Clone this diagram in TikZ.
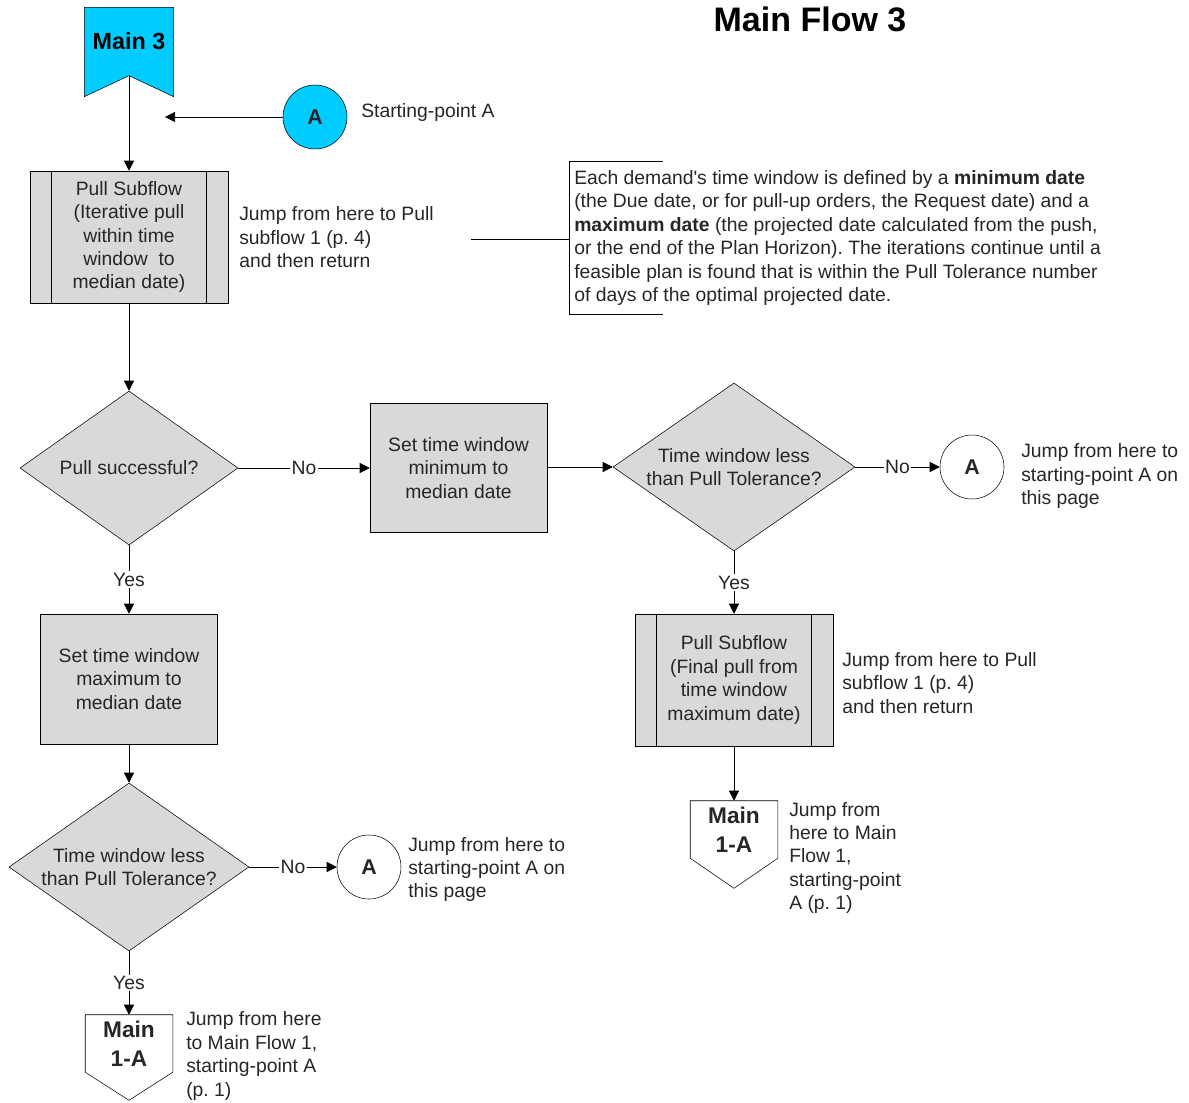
\documentclass[tikz,border=0pt]{standalone}
\usepackage{fontspec}
\setmainfont{Liberation Sans}
\usetikzlibrary{shapes.geometric,arrows.meta,calc,backgrounds}
\newlength\pu \setlength\pu{0.75pt}
\definecolor{cyanfill}{RGB}{0,204,255}
\definecolor{boxfill}{RGB}{217,217,217}
\definecolor{txt}{RGB}{38,38,38}
\frenchspacing
\begin{document}
\begin{tikzpicture}[x=0.75pt,y=-0.75pt, line width=1pt,
  >={Triangle[length=7.5pt,width=7.5pt]},
  every node/.style={font=\fontsize{14.5}{17.6}\selectfont, text=txt},
  proc/.style={draw, fill=boxfill, align=center, inner sep=0pt},
  dec/.style={shape=diamond, draw, fill=boxfill, align=center, inner sep=0pt},
  circ/.style={shape=circle, draw, fill=white, minimum size=64\pu, inner sep=0pt,
    font=\fontsize{16}{19}\selectfont\bfseries},
  offp/.style={align=center, inner sep=0pt, minimum width=87\pu, minimum height=57\pu,
    font=\fontsize{17}{21.8}\selectfont\bfseries},
  note/.style={anchor=west, align=left, inner sep=0pt},
  lbl/.style={fill=white, inner sep=1pt, midway}
]
\useasboundingbox (0,0) rectangle (1189,1103);

% title
\node[font=\fontsize{25.5}{30}\selectfont\bfseries, text=black] (title) at (810,19) {Main Flow 3};

% start banner
\node[inner sep=0pt, minimum width=88\pu, minimum height=67\pu,
      font=\fontsize{17.5}{21}\selectfont\bfseries, text=black] (m3) at (129,41.5) {Main 3};
\begin{pgfonlayer}{background}
\filldraw[fill=cyanfill] (m3.north west) -- (m3.north east) -- ($(m3.south east)+(0,21)$)
  -- (m3.south) -- ($(m3.south west)+(0,21)$) -- cycle;
\end{pgfonlayer}

% starting point A
\node[circ, fill=cyanfill] (A1) at (315,117) {A};
\coordinate (Aend) at (165,117);
\draw[->] (A1) -- (Aend);
\node[note] (nA) at (361,112) {Starting-point A};

% pull subflow 1
\node[proc, minimum width=198\pu, minimum height=132\pu] (b1) at (129,237)
  {Pull Subflow\\(Iterative pull\\within time\\window\ \ to\\median date)};
\draw ($(b1.north west)+(22,0)$) -- ($(b1.south west)+(22,0)$);
\draw ($(b1.north east)+(-22,0)$) -- ($(b1.south east)+(-22,0)$);
\draw[->] (m3.south) -- (b1.north);
\node[note] (n1) at (239,237.5) {Jump from here to Pull\\subflow 1 (p. 4)\\and then return};

% annotation
\node[note, inner xsep=5\pu, minimum height=152\pu] (ann) at (569,238)
  {Each demand\textquotesingle s time window is defined by a \textbf{minimum date}\\
   (the Due date, or for pull-up orders, the Request date) and a\\
   \textbf{maximum date} (the projected date calculated from the push,\\
   or the end of the Plan Horizon). The iterations continue until a\\
   feasible plan is found that is within the Pull Tolerance number\\
   of days of the optimal projected date.};
\draw ($(ann.north west)+(94,0)$) -- (ann.north west) -- (ann.south west) -- ($(ann.south west)+(94,0)$);
\coordinate (annl) at (471,239);
\draw (annl) -- (ann.west |- annl);

% decision 1
\node[dec, minimum width=218\pu, minimum height=154\pu, shape aspect=1.415] (d1) at (129,468) {Pull successful?};
\draw[->] (b1.south) -- (d1.north);

% set min box
\node[proc, minimum width=177\pu, minimum height=129\pu] (b2) at (458.5,468)
  {Set time window\\minimum to\\median date};
\draw[->] (d1.east) -- node[lbl] {No} (b2.west);

% decision 2
\node[dec, minimum width=242\pu, minimum height=168\pu, shape aspect=1.44] (d2) at (734,467)
  {Time window less\\than Pull Tolerance?};
\draw[->] (b2.east |- d2.west) -- (d2.west);

\node[circ] (A2) at (972,467) {A};
\draw[->] (d2.east) -- node[lbl] {No} (A2.west);
\node[note] (n2) at (1021,476) {Jump from here to\\starting-point A on\\this page};

% pull subflow 2
\node[proc, minimum width=198\pu, minimum height=132\pu] (b3) at (734,680)
  {Pull Subflow\\(Final pull from\\time window\\maximum date)};
\draw ($(b3.north west)+(22,0)$) -- ($(b3.south west)+(22,0)$);
\draw ($(b3.north east)+(-22,0)$) -- ($(b3.south east)+(-22,0)$);
\draw[->] (d2.south) -- node[lbl] {Yes} (b3.north);
\node[note] (n3) at (842,683) {Jump from here to Pull\\subflow 1 (p. 4)\\and then return};

% off-page 2
\node[offp] (op2) at (734,829.5) {Main\\1-A};
\draw (op2.north west) -- (op2.north east) -- (op2.south east) -- ($(op2.south)+(0,30)$)
  -- (op2.south west) -- cycle;
\draw[->] (b3.south) -- (op2.north);
\node[note] (n4) at (789,858) {Jump from\\here to Main\\Flow 1,\\starting-point\\A (p. 1)};

% set max box
\node[proc, minimum width=177\pu, minimum height=130\pu] (b4) at (129,679)
  {Set time window\\maximum to\\median date};
\draw[->] (d1.south) -- node[lbl] {Yes} (b4.north);

% decision 3
\node[dec, minimum width=240\pu, minimum height=168\pu, shape aspect=1.43] (d3) at (129,867)
  {Time window less\\than Pull Tolerance?};
\draw[->] (b4.south) -- (d3.north);

\node[circ] (A3) at (369,867) {A};
\draw[->] (d3.east) -- node[lbl] {No} (A3.west);
\node[note] (n5) at (408,869.5) {Jump from here to\\starting-point A on\\this page};

% off-page 3
\node[offp] (op3) at (129,1043.5) {Main\\1-A};
\draw (op3.north west) -- (op3.north east) -- (op3.south east) -- ($(op3.south)+(0,28)$)
  -- (op3.south west) -- cycle;
\draw[->] (d3.south) -- node[lbl] {Yes} (op3.north);
\node[note] (n6) at (186,1056) {Jump from here\\to Main Flow 1,\\starting-point A\\(p. 1)};
\end{tikzpicture}
\end{document}
